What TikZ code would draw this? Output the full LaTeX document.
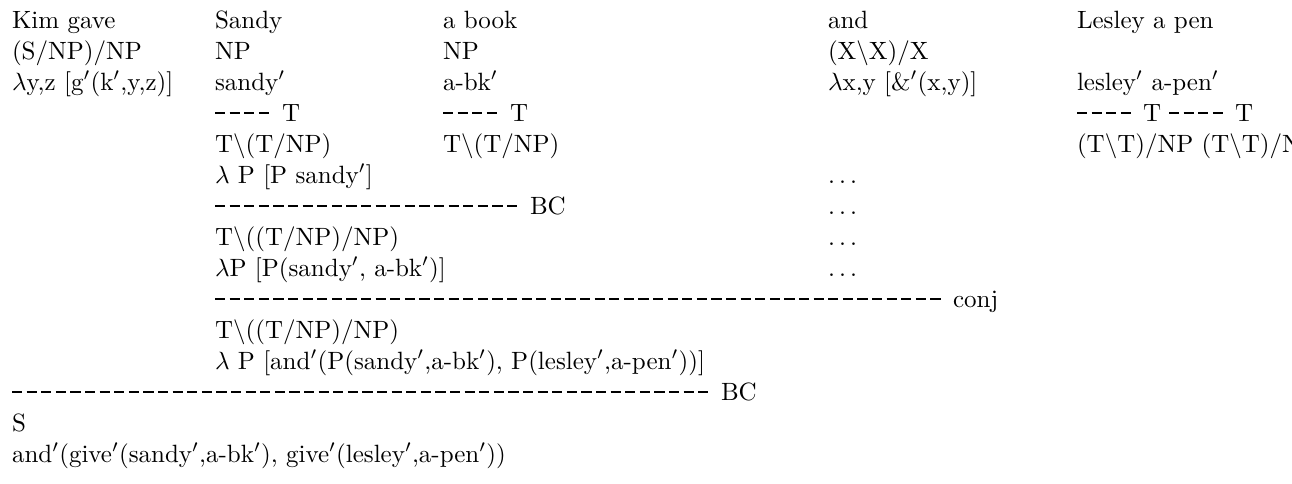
\documentclass[tikz,border=0pt]{standalone}
\begin{document}
\begin{tikzpicture}[x=0.4pt,y=-0.4pt,
  t/.style={anchor=base west,inner sep=0pt,outer sep=0pt,font=\fontsize{10}{12}\selectfont},
  rul/.style={line width=0.5pt,dash pattern=on 4.1pt off 1.74pt}]
\useasboundingbox (0,0) rectangle (1292,483);
\clip (0,0) rectangle (1292,483);
% row 1
\node[t] (k1) at (12,28) {Kim gave};
\node[t] (s1) at (215,28) {Sandy};
\node[t] (b1) at (443,28) {a book};
\node[t] (a1) at (828,28) {and};
\node[t] (l1) at (1077,28) {Lesley a pen};
% row 2
\node[t] (k2) at (12,59) {(S/NP)/NP};
\node[t] (s2) at (215,59) {NP};
\node[t] (b2) at (443,59) {NP};
\node[t] (a2) at (828,59) {(X$\backslash$X)/X};
% row 3
\node[t] (k3) at (12,90) {$\lambda$y,z [g$'$(k$'$,y,z)]};
\node[t] (s3) at (215,90) {sandy$'$};
\node[t] (b3) at (443,90) {a-bk$'$};
\node[t] (a3) at (828,90) {$\lambda$x,y [\&$'$(x,y)]};
\node[t] (l3) at (1077,90) {lesley$'$ a-pen$'$};
% row 4
\coordinate (s4a) at (215,113); \coordinate (s4b) at (269.3,113);
\draw[rul] (s4a) -- (s4b);
\node[t] (s4) at (282,121) {T};
\coordinate (b4a) at (443,113); \coordinate (b4b) at (497.3,113);
\draw[rul] (b4a) -- (b4b);
\node[t] (b4) at (510,121) {T};
\coordinate (l4a) at (1077,113); \coordinate (l4b) at (1131.3,113);
\draw[rul] (l4a) -- (l4b);
\node[t] (l4) at (1143,121) {T};
\coordinate (l4c) at (1169,113); \coordinate (l4d) at (1223.3,113);
\draw[rul] (l4c) -- (l4d);
\node[t] (l4t) at (1235,121) {T};
% row 5
\node[t] (s5) at (215,152) {T$\backslash$(T/NP)};
\node[t] (b5) at (443,152) {T$\backslash$(T/NP)};
\node[t] (l5) at (1077,152) {(T$\backslash$T)/NP (T$\backslash$T)/NP};
% row 6
\node[t] (s6) at (215,183) {$\lambda$ P [P sandy$'$]};
\node[t] (a6) at (828,183) {$\ldots$};
% row 7
\coordinate (s7a) at (215,206); \coordinate (s7b) at (517.5,206);
\draw[rul] (s7a) -- (s7b);
\node[t] (s7) at (530,214) {BC};
\node[t] (a7) at (828,214) {$\ldots$};
% row 8
\node[t] (s8) at (215,245) {T$\backslash$((T/NP)/NP)};
\node[t] (a8) at (828,245) {$\ldots$};
% row 9
\node[t] (s9) at (215,276) {$\lambda$P [P(sandy$'$, a-bk$'$)]};
\node[t] (a9) at (828,276) {$\ldots$};
% row 10
\coordinate (s10a) at (215,299); \coordinate (s10b) at (941,299);
\draw[rul] (s10a) -- (s10b);
\node[t] (c10) at (953,307) {conj};
% row 11
\node[t] (s11) at (215,338) {T$\backslash$((T/NP)/NP)};
% row 12
\node[t] (s12) at (215,369) {$\lambda$ P [and$'$(P(sandy$'$,a-bk$'$), P(lesley$'$,a-pen$'$))]};
% row 13
\coordinate (k13a) at (12,392); \coordinate (k13b) at (708.5,392);
\draw[rul] (k13a) -- (k13b);
\node[t] (k13) at (721,400) {BC};
% row 14
\node[t] (k14) at (12,431) {S};
% row 15
\node[t] (k15) at (12,462) {and$'$(give$'$(sandy$'$,a-bk$'$), give$'$(lesley$'$,a-pen$'$))};
\end{tikzpicture}
\end{document}
